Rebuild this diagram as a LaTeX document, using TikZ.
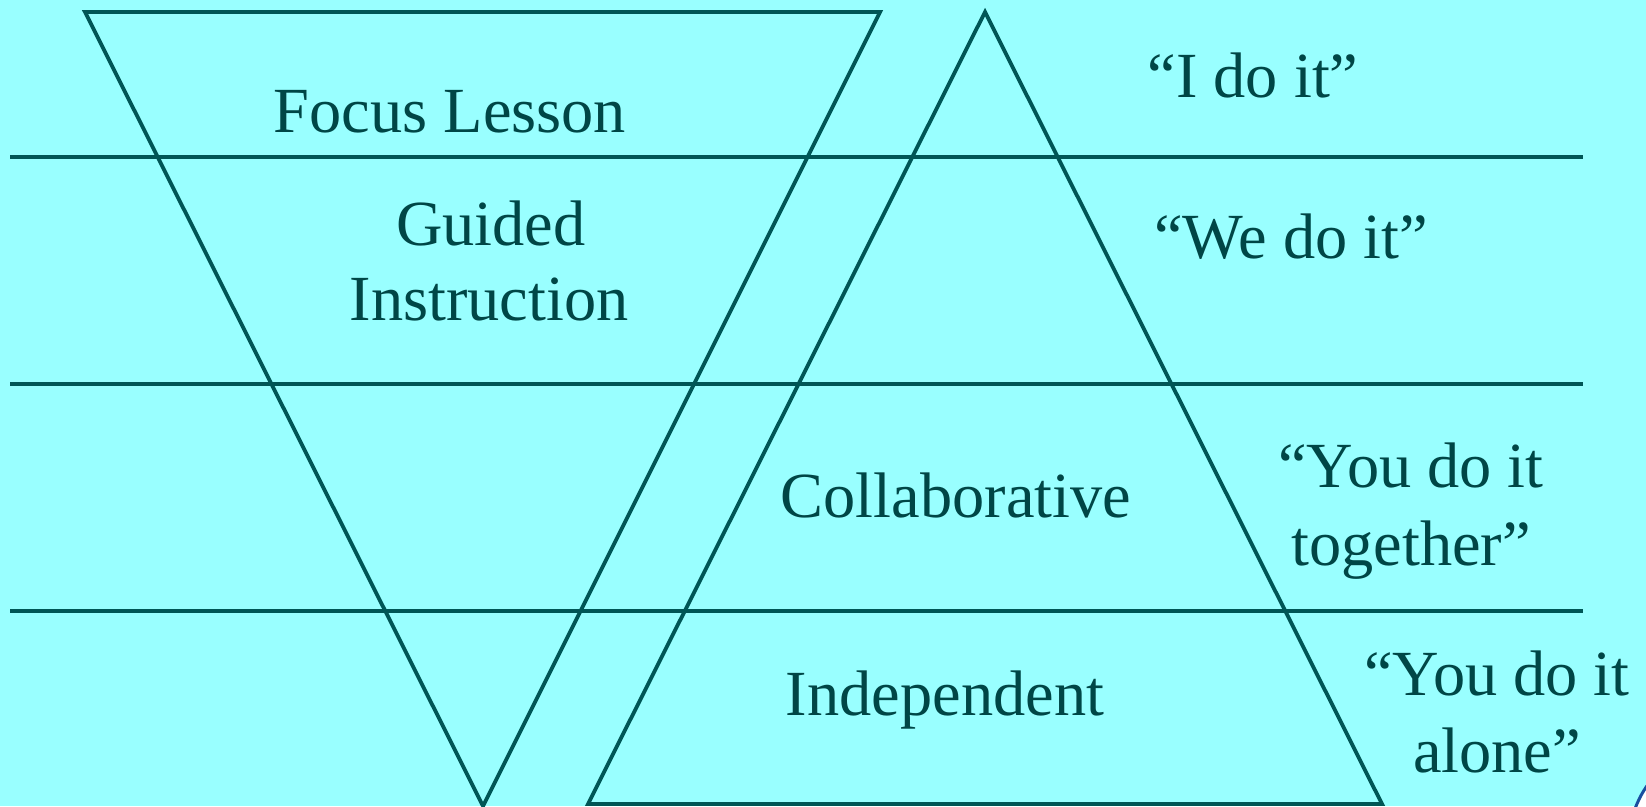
\documentclass[tikz,border=0pt]{standalone}
\usepackage{fontspec}
\setmainfont{Liberation Serif}
\usepackage{xcolor}
\definecolor{sky}{HTML}{99FFFF}
\definecolor{teal}{HTML}{005656}
\definecolor{ink}{HTML}{004646}
\definecolor{seal}{HTML}{1A4FA0}
\usepackage{tikz}
\usetikzlibrary{calc,positioning}

\begin{document}
\begin{tikzpicture}[x=0.01cm, y=-0.01cm,
    rule/.style={draw=teal, line width=0.038cm},
    phase/.style={text=ink, inner sep=0pt, anchor=base, font=\fontsize{18.3}{21.9}\selectfont},
    say/.style={phase, align=center}
]
  % Background
  \fill[sky] (0,0) rectangle (1646,806);
  \useasboundingbox (0,0) rectangle (1646,806);

  % Logo edge in the corner
  \begin{scope}
    \clip (0,0) rectangle (1646,806);
    \draw[seal, line width=0.03cm, fill=white] (1729,843) circle (100);
  \end{scope}

  % Triangles
  \coordinate (t1) at (85,12);
  \coordinate (t2) at (880,12);
  \coordinate (t3) at (483,806);
  \coordinate (u1) at (985,12);
  \coordinate (u2) at (588,804);
  \coordinate (u3) at (1382,804);
  \draw[rule, line join=miter] (t1) -- (t2) -- (t3) -- cycle;
  \draw[rule, line join=miter] (u1) -- (u2) -- (u3) -- cycle;

  % Rows
  \foreach \y in {157,384,611}
    \draw[rule] (10,\y) -- (1583,\y);

  % Phases
  \node[phase] (focus) at (450,132) {Focus Lesson};
  \node[phase] (guided) at (491,245) {Guided};
  \node[phase] (instr) at (489,320) {Instruction};
  \node[phase] (collab) at (956,517) {Collaborative};
  \node[phase] (indep) at (945,715) {Independent};

  % Who does it (base = last line)
  \node[phase] (ido) at (1253,97) {“I do it”};
  \node[phase] (wedo) at (1291,258) {“We do it”};
  \node[say] (youtog) at (1411,565) {“You do it\\together”};
  \node[say] (youalone) at (1497,772) {“You do it\\alone”};
\end{tikzpicture}
\end{document}
